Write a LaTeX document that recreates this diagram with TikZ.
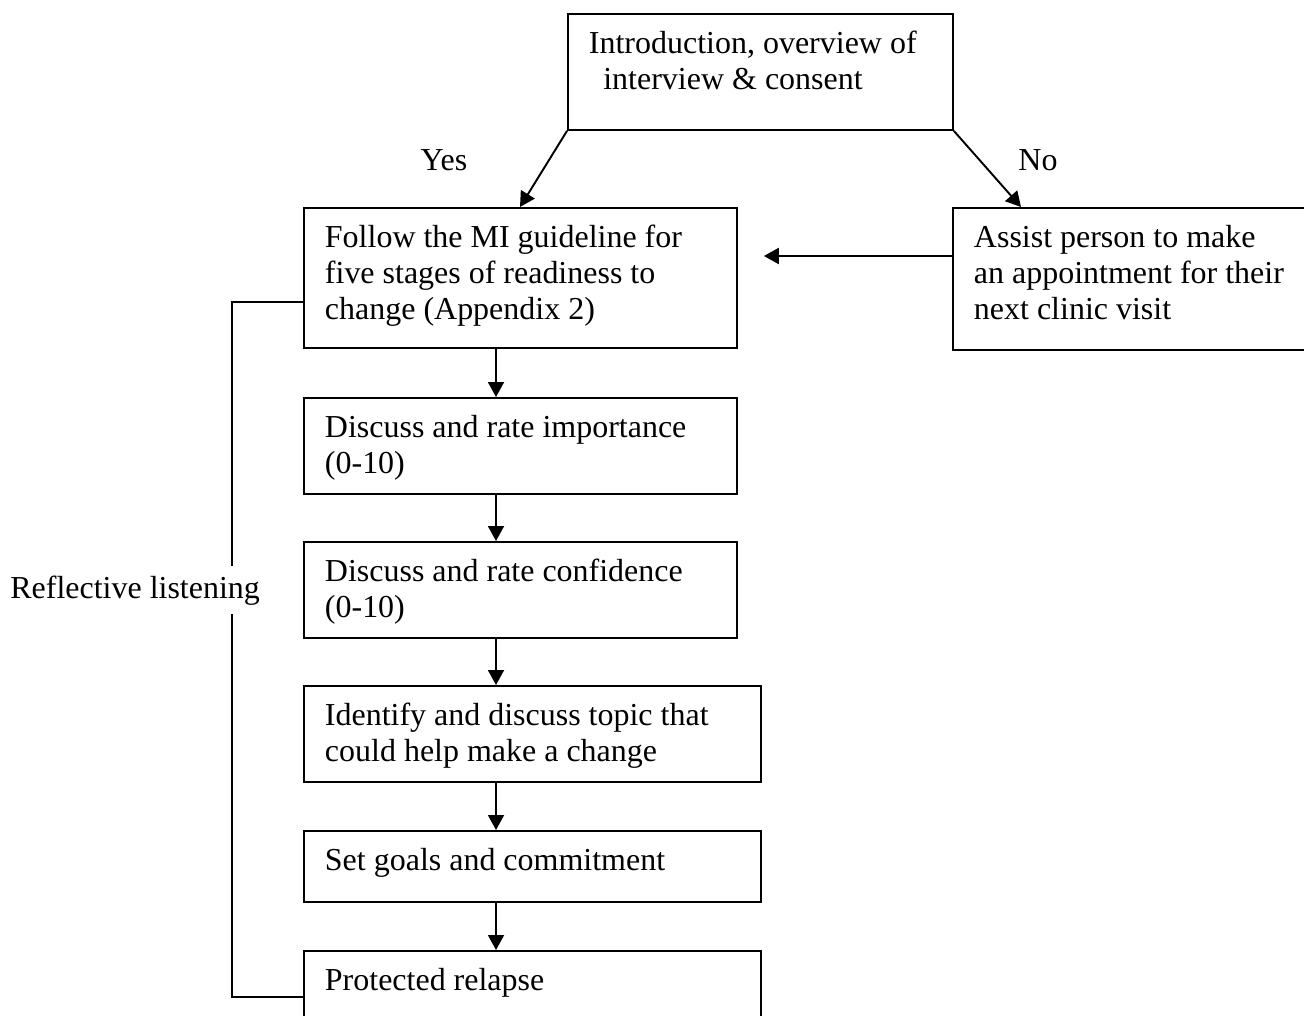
\documentclass[tikz,border=0pt]{standalone}
\usepackage{fontspec}
\setmainfont{Liberation Serif}
\usetikzlibrary{arrows.meta,calc}

\begin{document}
\begin{tikzpicture}[x=0.02cm,y=-0.02cm,
    box/.style={draw=black,line width=1.1pt,anchor=north west,align=flush left,inner xsep=0.42cm,inner ysep=0pt,text height=0.8cm,font=\fontsize{18.2}{20.5}\selectfont},
    link/.style={draw=black,line width=1.1pt},
    arr/.style={link,-{Triangle[length=0.3cm,width=0.32cm]}},
    lbl/.style={font=\fontsize{18.2}{20.5}\selectfont}]
      \useasboundingbox (0,0) rectangle (1304,1016);
      % boxes
      \node[box,text width=6.86cm,text depth=1.52cm] (intro) at (567,13) {Introduction, overview of\\\hspace*{0.45em}interview \& consent};
      \node[box,text width=7.82cm,text depth=2.0cm] (follow) at (303,207) {Follow the MI guideline for\\five stages of readiness to\\change (Appendix 2)};
      \node[box,text width=6.4cm,text depth=2.04cm] (assist) at (952,207) {Assist person to make\\an appointment for their\\next clinic visit};
      \node[box,text width=7.82cm,text depth=1.12cm] (importance) at (303,397) {Discuss and rate importance\\(0-10)};
      \node[box,text width=7.82cm,text depth=1.12cm] (confidence) at (303,541) {Discuss and rate confidence\\(0-10)};
      \node[box,text width=8.3cm,text depth=1.12cm] (identify) at (303,685) {Identify and discuss topic that\\could help make a change};
      \node[box,text width=8.3cm,text depth=0.62cm] (goals) at (303,830) {Set goals and commitment};
      \node[box,text width=8.3cm,text depth=1.2cm] (relapse) at (303,950) {Protected relapse};
      % arrows
      \coordinate (axis) at (496,0);
      \foreach \a/\b in {follow/importance,importance/confidence,confidence/identify,identify/goals,goals/relapse}
        \draw[arr] (\a.south -| axis) -- (\b.north -| axis);
      \draw[arr] (intro.south west) -- ($(follow.north west)+(217,0)$);
      \draw[arr] (intro.south east) -- ($(assist.north west)+(69,0)$);
      \draw[arr] ($(assist.north west)+(0,49)$) -- ($(follow.north east)+(26,49)$);
      \node[lbl] (yes) at (444,160) {Yes};
      \node[lbl] (no) at (1038,160) {No};
      % bracket
      \draw[link] ($(follow.south west)+(0,-47)$) -- ++(-71,0) |- ($(relapse.north west)+(0,47)$);
      \node[lbl,fill=white,inner ysep=0.18cm,inner xsep=0pt,anchor=base west] (reflect) at (10,598) {Reflective listening};
\end{tikzpicture}
\end{document}
